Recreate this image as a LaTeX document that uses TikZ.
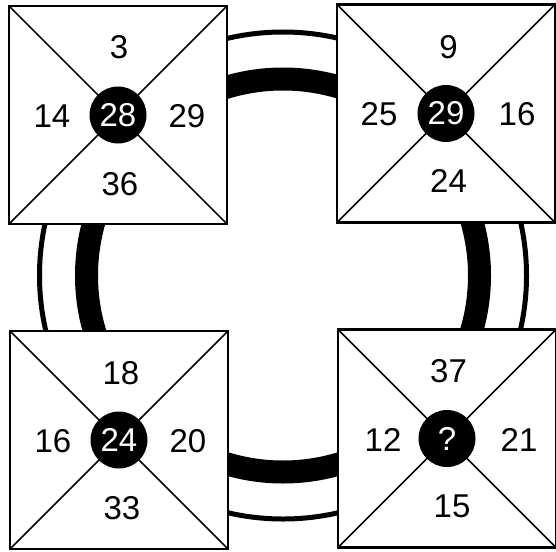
\documentclass[tikz,border=0pt]{standalone}
\usepackage{fontspec}
\setmainfont{Liberation Sans}
\begin{document}
\begin{tikzpicture}[x=1pt,y=-1pt,
  sq/.style={draw=black, fill=white, line width=2.5pt, minimum width=218pt, minimum height=218pt, outer sep=0pt, inner sep=0pt},
  diag/.style={line width=1.7pt},
  hub/.style={circle, fill=black, minimum size=57pt, inner sep=0pt, text=white, font=\fontsize{33}{33}\selectfont},
  num/.style={inner sep=0pt, font=\fontsize{33}{33}\selectfont}]
\useasboundingbox (0,0) rectangle (556,551);
\fill[white] (0,0) rectangle (556,551);
% ring
\coordinate (rc) at (283,275.5);
\draw[line width=5pt] (rc) circle[radius=243.5];
\draw[line width=23pt] (rc) circle[radius=196.5];
% squares
\node[sq] (s1) at (118,115) {};
\node[sq] (s2) at (446,113.5) {};
\node[sq] (s3) at (119,440) {};
\node[sq] (s4) at (447,438.5) {};
\foreach \s in {s1,s2,s3,s4}{
  \draw[diag] (\s.north west) -- (\s.south east);
  \draw[diag] (\s.north east) -- (\s.south west);
}
% hubs
\node[hub] (h1) at (s1.center) {28};
\node[hub] (h2) at (s2.center) {29};
\node[hub] (h3) at (s3.center) {24};
\node[hub] (h4) at (s4.center) {?};
% numbers
\node[num] (a1) at (119,47.5) {3};
\node[num] (a2) at (52,116) {14};
\node[num] (a3) at (187,116) {29};
\node[num] (a4) at (120,184) {36};
\node[num] (b1) at (448.5,47.5) {9};
\node[num] (b2) at (379,114) {25};
\node[num] (b3) at (517,114) {16};
\node[num] (b4) at (448.5,181) {24};
\node[num] (c1) at (121,373.5) {18};
\node[num] (c2) at (53,441) {16};
\node[num] (c3) at (188,441) {20};
\node[num] (c4) at (122,508.5) {33};
\node[num] (d1) at (448.5,371) {37};
\node[num] (d2) at (383,440) {12};
\node[num] (d3) at (519,440) {21};
\node[num] (d4) at (452,506) {15};
\end{tikzpicture}
\end{document}
